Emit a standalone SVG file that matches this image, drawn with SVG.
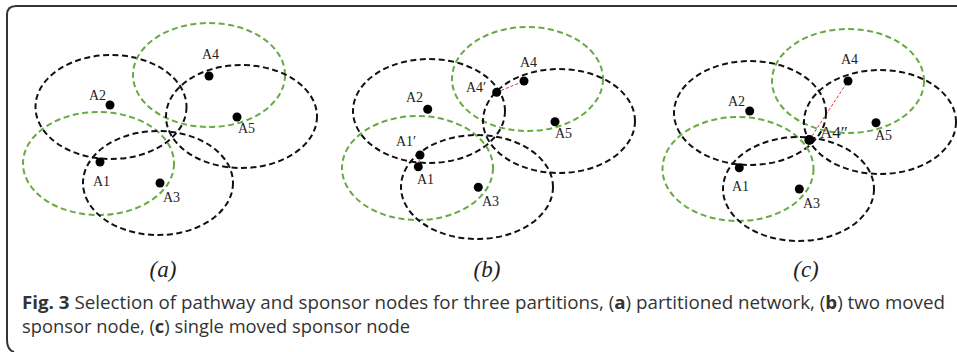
<svg xmlns="http://www.w3.org/2000/svg" width="957" height="352" viewBox="0 0 957 352">
  <style>
    .frame { fill: none; stroke: #333; stroke-width: 2; }
    .rb { fill: none; stroke: #111; stroke-width: 2; stroke-dasharray: 6 3.5; }
    .rg { fill: none; stroke: #66aa44; stroke-width: 2; stroke-dasharray: 6 3.5; }
    .dot { fill: #000; }
    .lbl { font-family: "Liberation Serif", "Times New Roman", serif; font-size: 14px; fill: #222; }
    .lbl-big { font-family: "Liberation Serif", "Times New Roman", serif; font-size: 17px; fill: #222; }
    .sub { font-family: "Liberation Serif", "Times New Roman", serif; font-size: 23px; font-style: italic; fill: #222; text-anchor: middle; }
    .cap { font-family: "Open Sans", "Liberation Sans", sans-serif; font-size: 18.5px; fill: #333; }
    .bold { font-weight: bold; }
    .move { stroke: #e03030; stroke-width: 1; stroke-dasharray: 3 2; fill: none; }
  </style>

  <!-- figure frame -->
  <path class="frame" d="M 957 6 H 16 Q 7 6 7 15 V 340 Q 7 350 14 352"/>

  <!-- connectors: movement of sponsor nodes -->
  <g id="connectors">
    <line class="move" x1="496.7" y1="92.3" x2="524" y2="81"/>
    <line class="move" x1="420" y1="155" x2="418.3" y2="166.7"/>
    <line class="move" x1="809.3" y1="140" x2="848" y2="81"/>
  </g>

  <!-- panel (a): partitioned network -->
  <g id="panel-a">
    <ellipse class="rb" cx="111" cy="107" rx="75.5" ry="52"/>
    <ellipse class="rg" cx="209" cy="75" rx="76" ry="52"/>
    <ellipse class="rb" cx="241.5" cy="116.5" rx="75.5" ry="51.5"/>
    <ellipse class="rg" cx="98.5" cy="163.5" rx="75.5" ry="51.5"/>
    <ellipse class="rb" cx="158" cy="183" rx="75" ry="52"/>
    <g id="a-A2"><circle class="dot" cx="110" cy="105" r="4.5"/><text class="lbl" x="89" y="100">A2</text></g>
    <g id="a-A4"><circle class="dot" cx="209" cy="76" r="4.5"/><text class="lbl" x="202" y="59">A4</text></g>
    <g id="a-A5"><circle class="dot" cx="237" cy="117" r="4.5"/><text class="lbl" x="238" y="133">A5</text></g>
    <g id="a-A1"><circle class="dot" cx="100" cy="162" r="4.5"/><text class="lbl" x="93" y="186">A1</text></g>
    <g id="a-A3"><circle class="dot" cx="160" cy="183" r="4.5"/><text class="lbl" x="163" y="202">A3</text></g>
    <text class="sub" x="163" y="277">(a)</text>
  </g>

  <!-- panel (b): two moved sponsor nodes -->
  <g id="panel-b">
    <ellipse class="rb" cx="429" cy="111" rx="76" ry="52"/>
    <ellipse class="rg" cx="527.5" cy="79" rx="75.5" ry="52"/>
    <ellipse class="rb" cx="559" cy="121" rx="76" ry="52"/>
    <ellipse class="rg" cx="417.5" cy="168" rx="75.5" ry="52"/>
    <ellipse class="rb" cx="477" cy="187" rx="76" ry="52"/>
    <g id="b-A2"><circle class="dot" cx="427.7" cy="109.3" r="4.5"/><text class="lbl" x="406" y="101.7">A2</text></g>
    <g id="b-A4"><circle class="dot" cx="524" cy="81" r="4.5"/><text class="lbl" x="520" y="66.7">A4</text></g>
    <g id="b-A4p"><circle class="dot" cx="496.7" cy="92.3" r="4.5"/><text class="lbl" x="466" y="91.7">A4′</text></g>
    <g id="b-A5"><circle class="dot" cx="555" cy="121.7" r="4.5"/><text class="lbl" x="555" y="138">A5</text></g>
    <g id="b-A1p"><circle class="dot" cx="420" cy="155" r="4.5"/><text class="lbl" x="396" y="145.7">A1′</text></g>
    <g id="b-A1"><circle class="dot" cx="418.3" cy="166.7" r="4.5"/><text class="lbl" x="417" y="184">A1</text></g>
    <g id="b-A3"><circle class="dot" cx="478.3" cy="187.3" r="4.5"/><text class="lbl" x="482" y="206">A3</text></g>
    <text class="sub" x="487" y="277">(b)</text>
  </g>

  <!-- panel (c): single moved sponsor node -->
  <g id="panel-c">
    <ellipse class="rb" cx="750" cy="113" rx="76" ry="52"/>
    <ellipse class="rg" cx="848" cy="81" rx="76" ry="52"/>
    <ellipse class="rb" cx="880" cy="122" rx="76" ry="52"/>
    <ellipse class="rg" cx="738" cy="169" rx="75.5" ry="52"/>
    <ellipse class="rb" cx="798.5" cy="189" rx="75.5" ry="52"/>
    <g id="c-A2"><circle class="dot" cx="749.7" cy="111" r="4.5"/><text class="lbl" x="728" y="106">A2</text></g>
    <g id="c-A4"><circle class="dot" cx="848" cy="81" r="4.5"/><text class="lbl" x="841" y="64.3">A4</text></g>
    <g id="c-A5"><circle class="dot" cx="876" cy="122.7" r="4.5"/><text class="lbl" x="875" y="140">A5</text></g>
    <g id="c-A4pp"><circle class="dot" cx="809.3" cy="140" r="5"/><text class="lbl-big" x="820" y="138.3">A4″</text></g>
    <g id="c-A1"><circle class="dot" cx="739.3" cy="167.7" r="4.5"/><text class="lbl" x="732" y="191">A1</text></g>
    <g id="c-A3"><circle class="dot" cx="799.3" cy="189" r="4.5"/><text class="lbl" x="803" y="208.3">A3</text></g>
    <text class="sub" x="806" y="277">(c)</text>
  </g>

  <!-- caption -->
  <g id="caption">
    <text class="cap" x="22" y="309" textLength="923" lengthAdjust="spacingAndGlyphs"><tspan class="bold">Fig. 3</tspan> Selection of pathway and sponsor nodes for three partitions, (<tspan class="bold">a</tspan>) partitioned network, (<tspan class="bold">b</tspan>) two moved</text>
    <text class="cap" x="22" y="333" textLength="388" lengthAdjust="spacingAndGlyphs">sponsor node, (<tspan class="bold">c</tspan>) single moved sponsor node</text>
  </g>
</svg>
